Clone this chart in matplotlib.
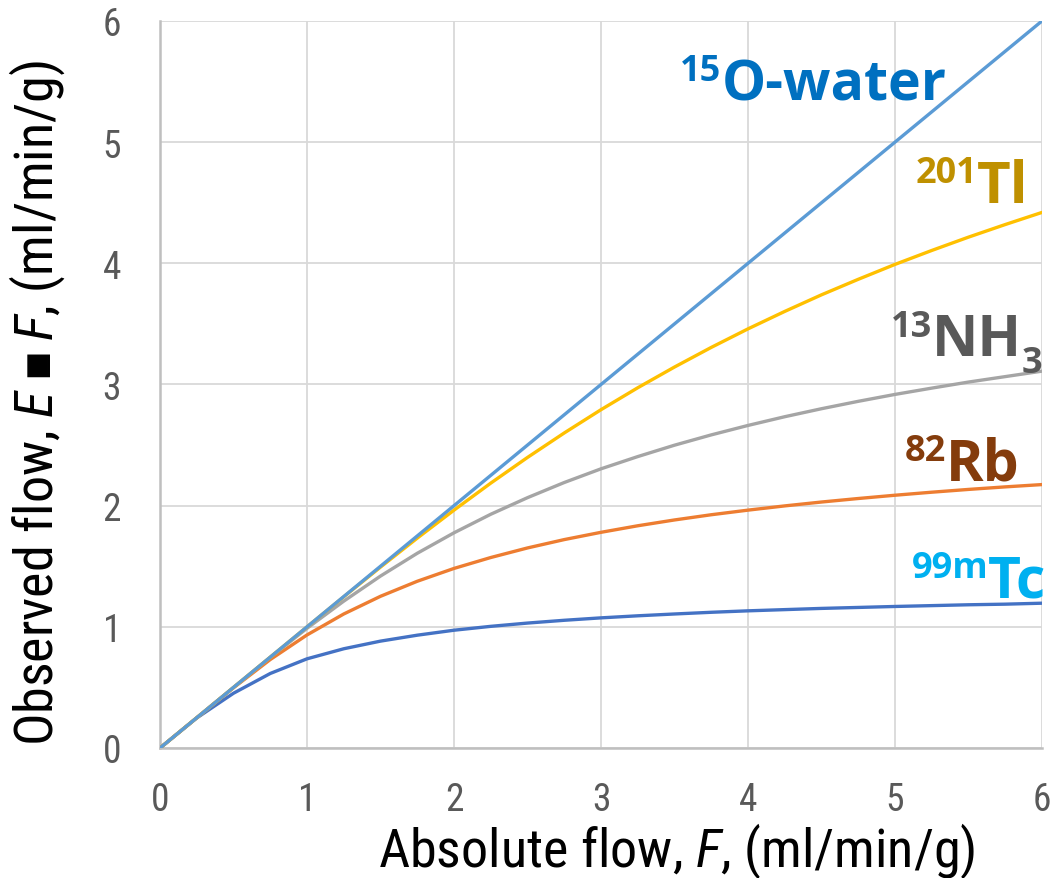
import matplotlib
matplotlib.use("Agg")
import matplotlib.pyplot as plt
from matplotlib import font_manager

names = {f.name for f in font_manager.fontManager.ttflist}

# ---------------- data ----------------
flow = [0, 0.25, 0.5, 0.75, 1, 1.25, 1.5, 1.75, 2, 2.25, 2.5, 2.75, 3, 3.25, 3.5, 3.75,
        4, 4.25, 4.5, 4.75, 5, 5.25, 5.5, 5.75, 6]
water = [0, 0.25, 0.5, 0.75, 1, 1.25, 1.5, 1.75, 2, 2.25, 2.5, 2.75, 3, 3.25, 3.5, 3.75,
         4, 4.25, 4.5, 4.75, 5, 5.25, 5.5, 5.75, 6]
tl201 = [0, 0.25, 0.5, 0.75, 1.0, 1.248, 1.493, 1.732, 1.963, 2.186, 2.398, 2.600, 2.792,
         2.973, 3.144, 3.306, 3.459, 3.603, 3.740, 3.868, 3.991, 4.106, 4.216, 4.320, 4.42]
nh3 = [0, 0.25, 0.5, 0.748, 0.988, 1.212, 1.419, 1.607, 1.776, 1.929, 2.066, 2.191, 2.304,
       2.405, 2.499, 2.584, 2.662, 2.734, 2.800, 2.861, 2.918, 2.970, 3.020, 3.065, 3.11]
rb82 = [0, 0.25, 0.497, 0.730, 0.933, 1.106, 1.252, 1.376, 1.482, 1.572, 1.651, 1.720, 1.780,
        1.834, 1.882, 1.925, 1.963, 1.998, 2.030, 2.059, 2.086, 2.111, 2.134, 2.155, 2.174]
tc99m = [0, 0.248, 0.452, 0.615, 0.736, 0.819, 0.882, 0.931, 0.972, 1.004, 1.031, 1.054, 1.074,
         1.091, 1.106, 1.120, 1.132, 1.142, 1.152, 1.160, 1.168, 1.175, 1.182, 1.187, 1.195]
ticks = [0, 1, 2, 3, 4, 5, 6]

narrow = "Liberation Sans"
for cand in ["Roboto Condensed", "Liberation Sans Narrow", "Open Sans Condensed"]:
    if cand in names:
        narrow = cand
        break
plt.rcParams['font.family'] = [narrow, 'DejaVu Sans']
plt.rcParams['mathtext.fontset'] = 'custom'
plt.rcParams['mathtext.rm'] = narrow
plt.rcParams['mathtext.it'] = narrow + ':italic'
plt.rcParams['mathtext.fallback'] = 'stixsans'

fig = plt.figure(figsize=(10.64, 8.79), dpi=100)
ax = fig.add_axes([0.1504, 0.1479, 0.9793 - 0.1504, 0.975 - 0.1479])

lw = 2.4
kw = dict(lw=lw, zorder=3, solid_joinstyle='round', solid_capstyle='round')
ax.plot(flow, tc99m, color='#4472C4', **kw)
ax.plot(flow, rb82, color='#ED7D31', **kw)
ax.plot(flow, nh3, color='#A5A5A5', **kw)
ax.plot(flow, tl201, color='#FFC000', **kw)
ax.plot(flow, water, color='#5B9BD5', **kw)

ax.set_xlim(0, 6)
ax.set_ylim(0, 6)
ax.set_xticks(ticks)
ax.set_yticks(ticks)
ax.grid(True, color='#D9D9D9', lw=1.3, zorder=0)
ax.set_axisbelow(True)
for s in ['top', 'right']:
    ax.spines[s].set_visible(False)
for s in ['left', 'bottom']:
    ax.spines[s].set_color('#BFBFBF')
    ax.spines[s].set_linewidth(1.8)
ax.tick_params(length=0, labelsize=27, labelcolor='#595959')
ax.tick_params(axis='x', pad=24)
ax.tick_params(axis='y', pad=28)

ax.set_xlabel('Absolute flow, $F$, (ml/min/g)', fontsize=39, color='black')
ax.xaxis.label.set_va('baseline')
ax.xaxis.set_label_coords(0.5856, -0.162)
ax.set_ylabel('Observed flow, $E$ $\u25aa$ $F$, (ml/min/g)', fontsize=39, color='black')
ax.yaxis.set_label_coords(-0.106, 0.476)

bold = 'Open Sans'
labels = [
    # sup, main, x_right, baseline, color, main size
    ('15', 'O-water', 5.35, 5.355, '#0070C0', 40),
    ('201', 'Tl', 5.91, 4.507, '#BF9000', 42),
    ('13', 'NH', 5.862, 3.243, '#595959', 41),
    ('82', 'Rb', 5.85, 2.215, '#843C0C', 41),
    ('99m', 'Tc', 6.03, 1.254, '#00B0F0', 41),
]
for sup, main, x, y, c, fs in labels:
    t = ax.text(x, y, main, ha='right', va='baseline', color=c, fontsize=fs,
                fontweight='bold', family=bold, clip_on=False)
    ax.annotate(sup, xy=(0, y), xycoords=(t, 'data'), xytext=(0, 14),
                textcoords='offset points', ha='right', va='baseline',
                color=c, fontsize=26, fontweight='bold', family=bold)
    if main == 'NH':
        ax.annotate('3', xy=(1, y), xycoords=(t, 'data'), xytext=(0, -12),
                    textcoords='offset points', ha='left', va='baseline',
                    color=c, fontsize=26, fontweight='bold', family=bold)

fig.savefig('out.png', dpi=100)
